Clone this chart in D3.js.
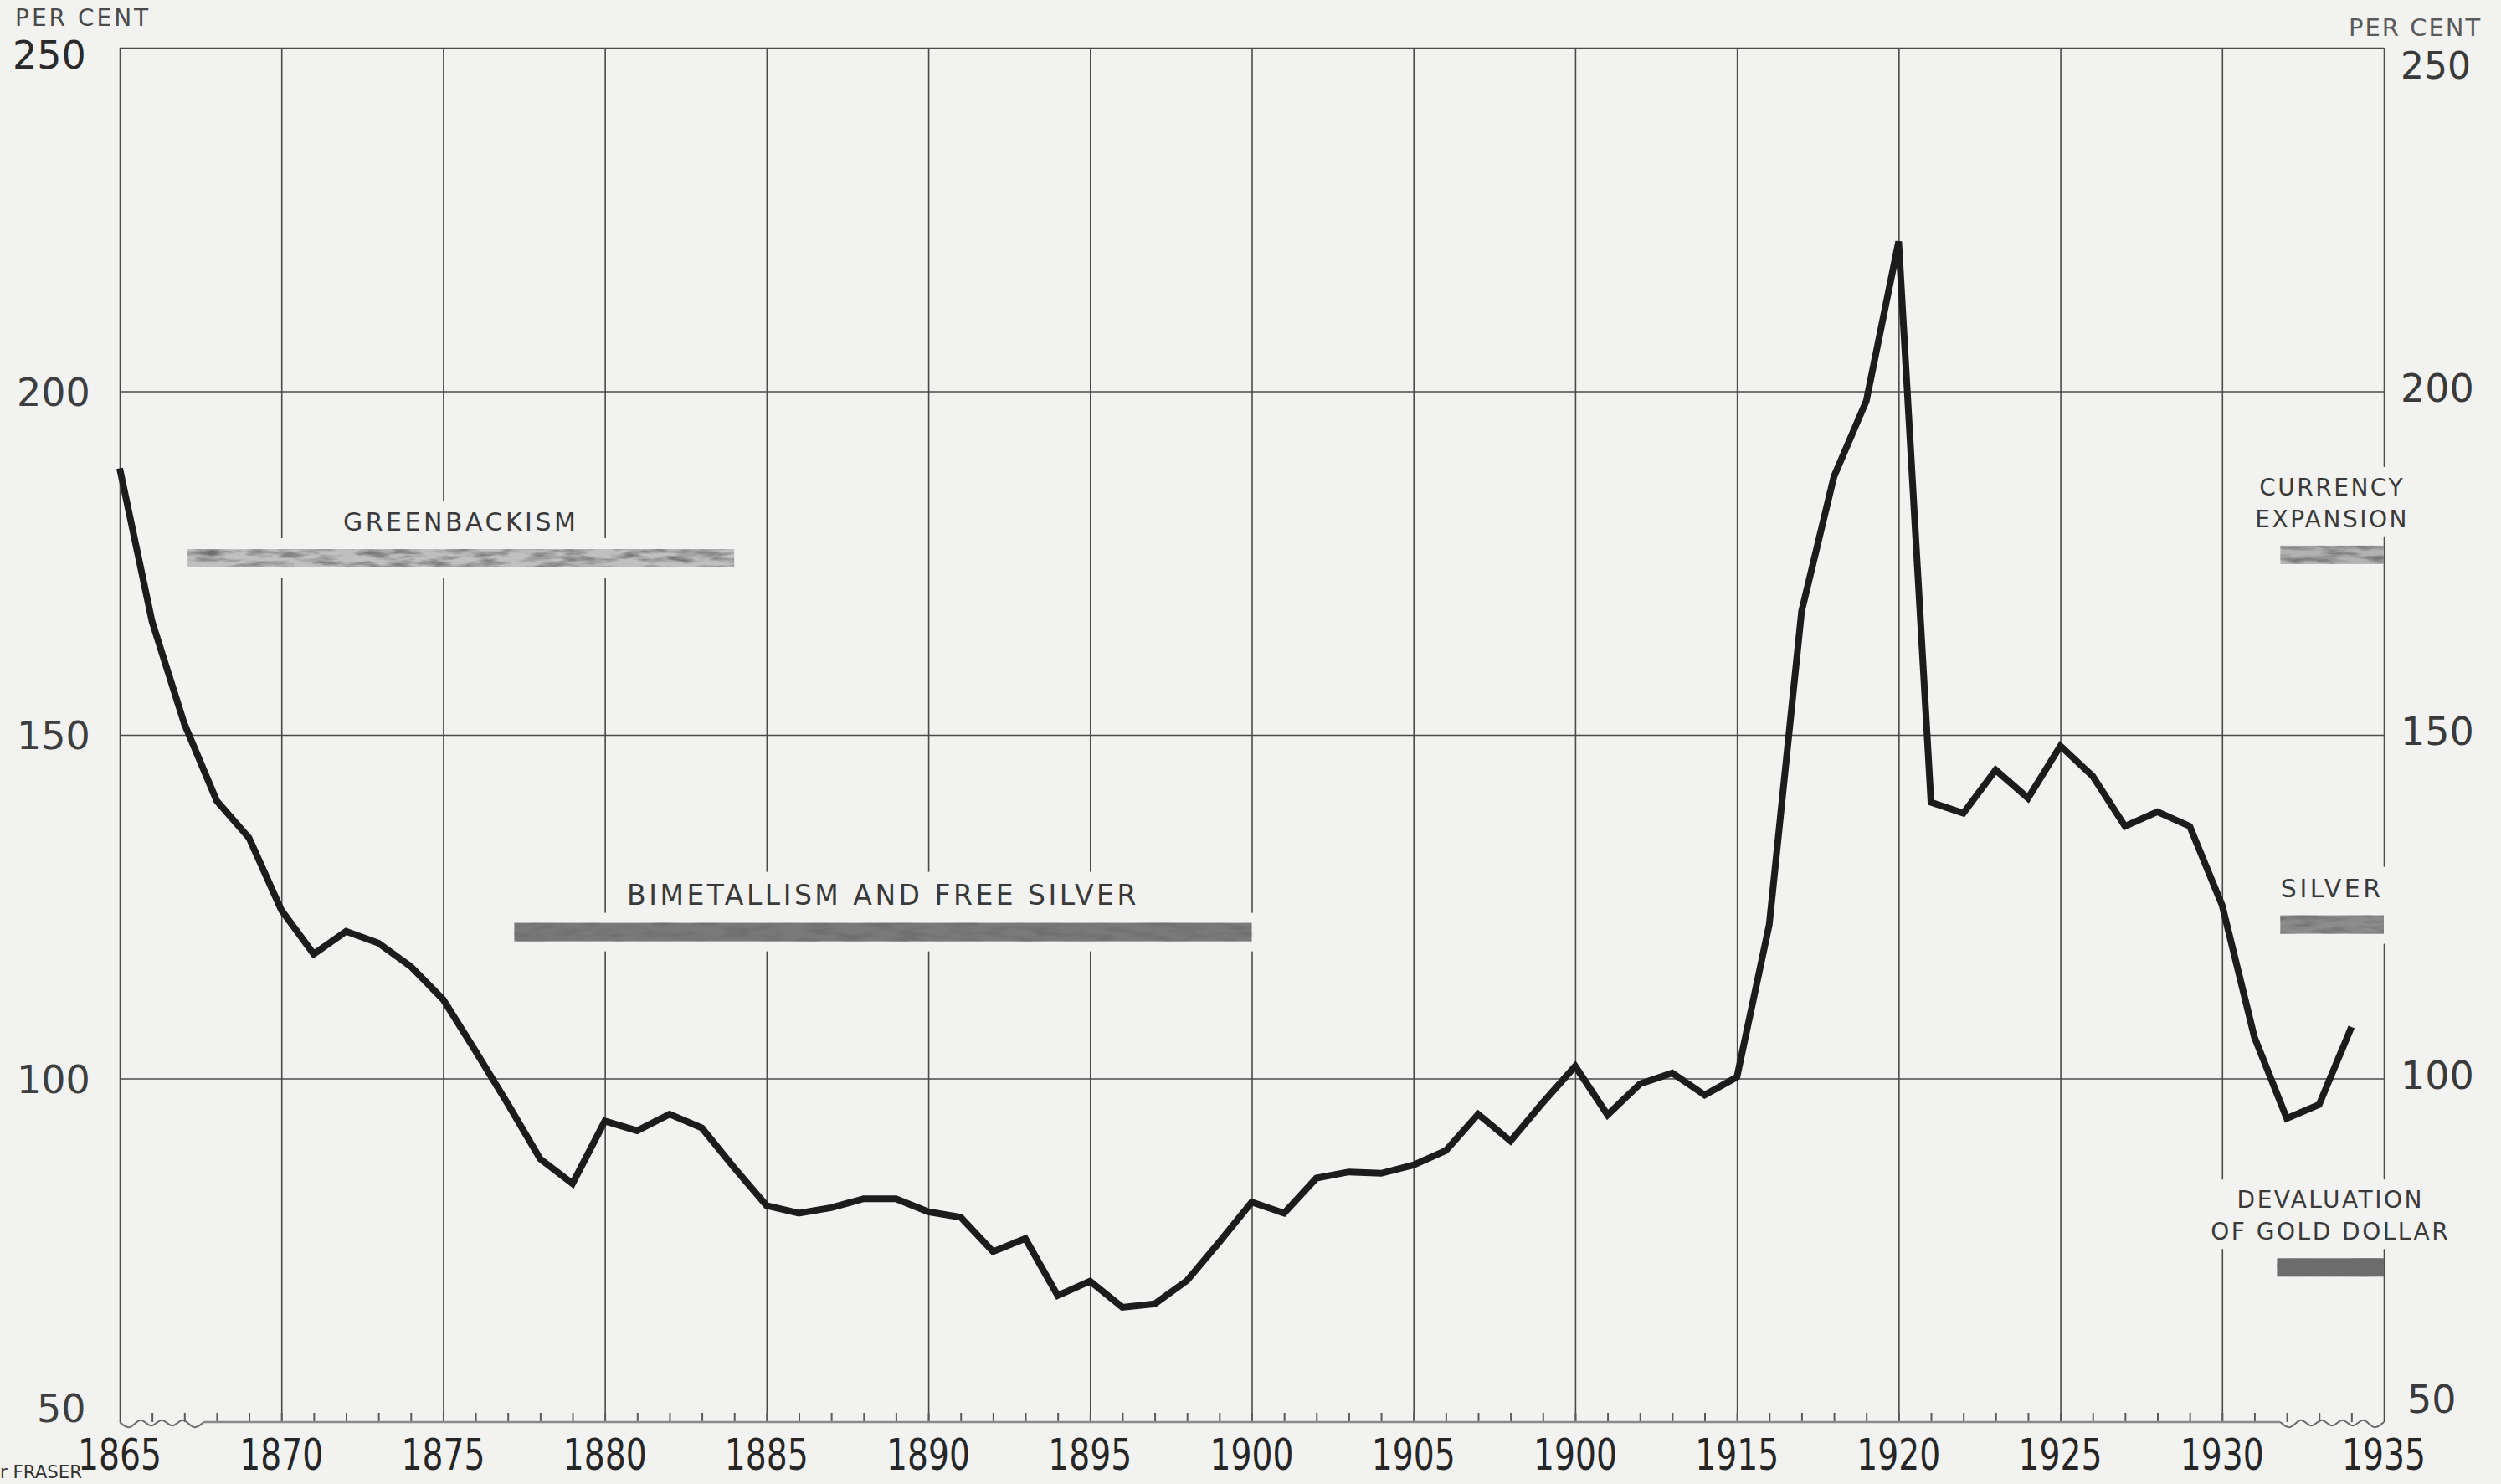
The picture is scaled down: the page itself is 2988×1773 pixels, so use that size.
<!DOCTYPE html>
<html>
<head>
<meta charset="utf-8">
<script src="https://cdn.jsdelivr.net/npm/d3@7"></script>
<style>
  html, body { margin: 0; padding: 0; background: #f2f2f1; }
  svg { display: block; }
</style>
</head>
<body>
<div id="chart"></div>
<script>
// ---- data (per cent, one value per year from 1865) ----
const firstYear = 1865;
const values = [
  188.8, 166.5, 151.6, 140.4, 135.0, 124.5, 118.1, 121.4, 119.7, 116.3, // 1865-1874
  111.5, 104.0, 96.3, 88.3, 84.7, 93.8, 92.4, 94.8, 92.8, 87.0,         // 1875-1884
  81.5, 80.4, 81.2, 82.5, 82.5, 80.6, 79.8, 74.8, 76.7, 68.4,           // 1885-1894
  70.5, 66.7, 67.2, 70.6, 76.2, 82.0, 80.4, 85.5, 86.4, 86.2,           // 1895-1904
  87.4, 89.5, 94.8, 90.9, 96.5, 101.8, 94.7, 99.2, 100.8, 97.6,         // 1905-1914
  100.2, 122.4, 168.0, 187.6, 198.6, 221.8, 140.2, 138.6, 144.9, 140.8, // 1915-1924
  148.4, 144.0, 136.7, 138.8, 136.7, 125.2, 106.0, 94.2, 96.2, 107.5    // 1925-1934
];

// x axis labels as printed (the second "1900" stands where 1910 belongs)
const xTickYears = [1865, 1870, 1875, 1880, 1885, 1890, 1895, 1900, 1905, 1910, 1915, 1920, 1925, 1930, 1935];
const xTickLabels = ["1865", "1870", "1875", "1880", "1885", "1890", "1895", "1900", "1905", "1900", "1915", "1920", "1925", "1930", "1935"];
const yTicks = [50, 100, 150, 200, 250];

// movements shown as bars
const periodLabels = [["GREENBACKISM"], ["BIMETALLISM AND FREE SILVER"], ["CURRENCY", "EXPANSION"], ["SILVER"], ["DEVALUATION", "OF GOLD DOLLAR"]];
const periodStart = [1867.1, 1877.2, 1931.8, 1931.8, 1931.7];
const periodEnd   = [1884.0, 1900.0, 1935.0, 1935.0, 1935.0];
const periodLevel = [175.7, 121.3, 176.2, 122.4, 72.5];

// ---- layout ----
const W = 2988, H = 1773;
const mLeft = 143, mRight = 2848, mTop = 57, mBottom = 1699;
const paper = "#f2f2f1";
const ink = "#1c1c1c";
const gridInk = "#4a4a4a";
const barTone = ["#c0c0c0", "#7a7a7a", "#b2b2b2", "#8c8c8c", "#6c6c6c"];
const font = "'DejaVu Sans', 'Liberation Sans', sans-serif";

const svg = d3.select("#chart").append("svg")
  .attr("width", W).attr("height", H)
  .style("background", paper)
  .style("font-family", font);

const x = d3.scaleLinear().domain([1865, 1935]).range([mLeft, mRight]);
const y = d3.scaleLinear().domain([50, 250]).range([mBottom, mTop]);

// texture for the hand-shaded bars
const defs = svg.append("defs");
const f = defs.append("filter").attr("id", "mottle")
  .attr("x", 0).attr("y", 0).attr("width", "100%").attr("height", "100%");
f.append("feTurbulence").attr("type", "fractalNoise")
  .attr("baseFrequency", "0.03 0.14").attr("numOctaves", 3).attr("seed", 7).attr("result", "noise");
f.append("feColorMatrix").attr("in", "noise").attr("type", "matrix")
  .attr("values", "0 0 0 0 0.15  0 0 0 0 0.15  0 0 0 0 0.15  2.2 0 0 0 -0.9")
  .attr("result", "spots");
f.append("feComposite").attr("in", "spots").attr("in2", "SourceGraphic").attr("operator", "in");

// ---- grid ----
const grid = svg.append("g");

// vertical lines every five years
grid.append("g")
  .attr("transform", `translate(0,${mBottom})`)
  .call(d3.axisBottom(x).tickValues(xTickYears).tickSize(-(mBottom - mTop)).tickFormat(""))
  .call(g => g.select(".domain").remove())
  .call(g => g.selectAll("line").attr("stroke", gridInk).attr("stroke-width", 1.6));

// horizontal lines
grid.append("g")
  .attr("transform", `translate(${mLeft},0)`)
  .call(d3.axisLeft(y).tickValues([100, 150, 200, 250]).tickSize(-(mRight - mLeft)).tickFormat(""))
  .call(g => g.select(".domain").remove())
  .call(g => g.selectAll("line").attr("stroke", gridInk).attr("stroke-width", 1.6));

// ---- x axis base with yearly ticks and broken ends ----
const axisG = svg.append("g");
axisG.append("g")
  .attr("transform", `translate(0,${mBottom})`)
  .call(d3.axisTop(x).tickValues(d3.range(1866, 1935)).tickSize(11).tickFormat(""))
  .call(g => g.select(".domain").remove())
  .call(g => g.selectAll("line").attr("stroke", "#5a5a5a").attr("stroke-width", 2));

const breakL = [1865, 1867.6], breakR = [1931.8, 1935];
axisG.append("line")
  .attr("x1", x(breakL[1])).attr("x2", x(breakR[0]))
  .attr("y1", mBottom).attr("y2", mBottom)
  .attr("stroke", "#8a8a8a").attr("stroke-width", 2.5);

function zigzag(x0, x1) {
  const n = Math.round((x1 - x0) / 12);
  const pts = d3.range(n + 1).map(i => [x0 + (x1 - x0) * i / n, mBottom + (i === 0 || i === n ? 0 : (i % 2 ? 11 : -9))]);
  return d3.line().curve(d3.curveBasis)(pts);
}
axisG.selectAll("path.zig")
  .data([breakL, breakR])
  .join("path")
  .attr("class", "zig")
  .attr("d", d => zigzag(x(d[0]), x(d[1])))
  .attr("fill", "none").attr("stroke", "#6a6a6a").attr("stroke-width", 2);

// year labels
svg.append("g")
  .selectAll("text")
  .data(xTickYears)
  .join("text")
  .attr("x", d => x(d))
  .attr("y", 1756)
  .attr("text-anchor", "middle")
  .attr("textLength", 100)
  .attr("lengthAdjust", "spacingAndGlyphs")
  .style("font-size", "52px")
  .style("fill", "#262626")
  .text((d, i) => xTickLabels[i]);

// ---- y labels, both sides ----
svg.append("text").attr("x", 18).attr("y", 31)
  .style("font-size", "28px").style("letter-spacing", "3px").style("fill", "#4a4a4a")
  .text("PER CENT");
svg.append("text").attr("x", 2806).attr("y", 43)
  .style("font-size", "29px").style("letter-spacing", "2px").style("fill", "#5a5a5a")
  .text("PER CENT");

svg.append("g").selectAll("text").data(yTicks).join("text")
  .attr("x", d => d === 50 ? 44 : d === 250 ? 15 : 20)
  .attr("y", d => d === 250 ? 82 : d === 50 ? 1699 : y(d) + 17)
  .style("font-size", "46px")
  .style("fill", d => d === 250 ? "#2a2a2a" : "#3e3e3e")
  .text(d => d);

svg.append("g").selectAll("text").data(yTicks).join("text")
  .attr("x", d => d === 50 ? 2876 : 2868)
  .attr("y", d => d === 250 ? 94 : d === 50 ? 1688 : y(d) + 12)
  .style("font-size", d => d === 250 ? "44px" : "46px")
  .style("fill", "#3a3a3a")
  .text(d => d);

// ---- movement bars ----
const ann = svg.append("g");
periodLabels.forEach((lines, i) => {
  const x0 = x(periodStart[i]), x1 = x(periodEnd[i]);
  const cx = (x0 + x1) / 2;
  const barTop = y(periodLevel[i]) - 11;
  const firstBase = barTop - 22 - (lines.length - 1) * 38;
  const fs = lines.length > 1 ? 28 : (i === 1 ? 33 : 30);

  const knock = ann.append("g");
  const texts = lines.map((s, k) => ann.append("text")
    .attr("x", cx)
    .attr("y", firstBase + k * 38)
    .attr("text-anchor", "middle")
    .style("font-size", fs + "px")
    .style("letter-spacing", (lines.length > 1 ? 2.5 : 3.5) + "px")
    .style("fill", "#3a3a3a")
    .text(s));

  // paper showing through the grid around the lettering
  const boxes = texts.map(t => t.node().getBBox());
  const bx0 = d3.min(boxes, b => b.x) - 8, bx1 = d3.max(boxes, b => b.x + b.width) + 8;
  const by0 = d3.min(boxes, b => b.y) - 8, by1 = d3.max(boxes, b => b.y + b.height) + 4;
  knock.append("rect")
    .attr("x", bx0).attr("y", by0)
    .attr("width", bx1 - bx0).attr("height", by1 - by0)
    .attr("fill", paper);
  if (lines.length === 1) {
    knock.append("rect")
      .attr("x", x0 - 6).attr("y", by1 - 2)
      .attr("width", x1 - x0 + 12).attr("height", barTop + 36 - by1)
      .attr("fill", paper);
  }

  ann.append("rect")
    .attr("x", x0).attr("y", barTop)
    .attr("width", x1 - x0).attr("height", 22)
    .attr("fill", barTone[i]);
  ann.append("rect")
    .attr("x", x0).attr("y", barTop)
    .attr("width", x1 - x0).attr("height", 22)
    .attr("fill", "#222")
    .attr("filter", "url(#mottle)");
});

// ---- the series ----
svg.append("path")
  .datum(values)
  .attr("d", d3.line()
    .x((d, i) => x(firstYear + i))
    .y(d => y(d)))
  .attr("fill", "none")
  .attr("stroke", ink)
  .attr("stroke-width", 8)
  .attr("stroke-linejoin", "miter")
  .attr("stroke-miterlimit", 3);

// archive stamp fragment
svg.append("text").attr("x", 0).attr("y", 1766)
  .attr("textLength", 98).attr("lengthAdjust", "spacingAndGlyphs")
  .style("font-size", "21px").style("fill", "#333")
  .text("r FRASER");
</script>
</body>
</html>
